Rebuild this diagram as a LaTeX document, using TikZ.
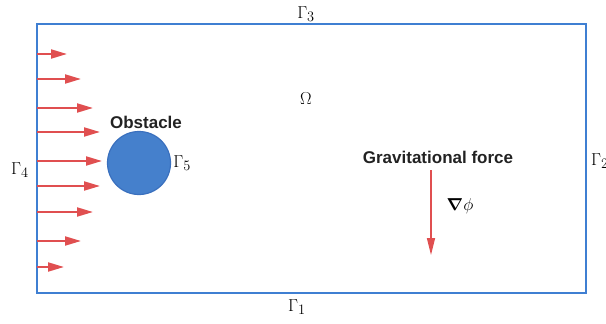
\documentclass[tikz,border=0pt]{standalone}
\usepackage{amsmath}
\usepackage{amssymb}
\usepackage{fontspec}
\newfontfamily\labelfont{Liberation Sans}
\usetikzlibrary{arrows.meta}

\definecolor{wallblue}{HTML}{3F7FD2}
\definecolor{obstblue}{HTML}{4580CC}
\definecolor{obstedge}{HTML}{3A70BE}
\definecolor{flowred}{HTML}{E04F50}
\definecolor{tagtext}{HTML}{222222}

\tikzset{
  wall/.style = {draw=wallblue, line width=2.5pt},
  flow/.style = {draw=flowred, line width=2pt, -{Triangle[length=16pt, width=9pt]}},
  bnd/.style = {font=\fontsize{19}{19}\selectfont, inner sep=0pt},
  tag/.style = {font=\labelfont\bfseries\fontsize{17}{17}\selectfont, text=tagtext, inner sep=0pt}
}

\begin{document}
\begin{tikzpicture}[x = 1pt, y = -1pt]
    \useasboundingbox (0,0) rectangle (606,324);
    % domain
    \draw[wall] (37,24) rectangle (586,293);
    \node[bnd] (omega) at (306,99) {$\Omega$};
    \node[bnd] (g3) at (306,14) {$\Gamma_3$};
    \node[bnd] (g1) at (297,307) {$\Gamma_1$};
    \node[bnd] (g4) at (20,170) {$\Gamma_4$};
    \node[bnd, anchor=west] (g2) at (591,161) {$\Gamma_2$};
    % obstacle
    \node[circle, draw=obstedge, fill=obstblue, line width=1.2pt, minimum size=63pt, inner sep=0pt] (obst) at (139,163) {};
    \node[tag] (obstlabel) at (146,122) {Obstacle};
    \node[bnd, anchor=west] (g5) at ([xshift=2pt]obst.east) {$\Gamma_5$};
    % inflow
    \foreach \y/\tip [count=\i] in {54/67, 79/81, 108/93, 132/100, 161/102, 186/100, 212/93, 241/81, 267/64}
    {
        \coordinate (in\i) at (37,\y);
        \coordinate (out\i) at (\tip,\y);
        \draw[flow] (in\i) -- (out\i);
    }
    % gravity
    \node[tag] (grav) at (438,157) {Gravitational force};
    \coordinate (gtop) at (431,170);
    \coordinate (gbot) at (431,255);
    \draw[flow, line width=1.5pt, -{Triangle[length=17pt, width=8pt]}] (gtop) -- (gbot);
    \node[bnd] (gradphi) at (460,206) {$\boldsymbol{\nabla}\phi$};
\end{tikzpicture}
\end{document}
